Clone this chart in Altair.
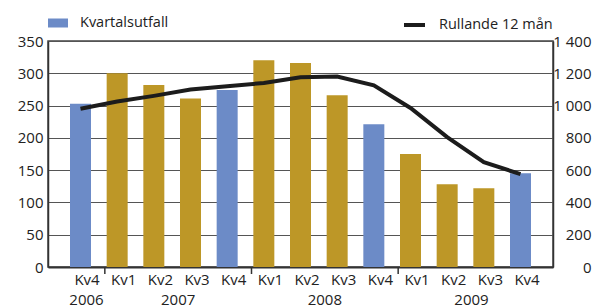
import altair as alt
import pandas as pd

# ---- data ----
kvartal = ["Kv4", "Kv1", "Kv2", "Kv3", "Kv4", "Kv1", "Kv2", "Kv3", "Kv4", "Kv1", "Kv2", "Kv3", "Kv4"]
kvartalsutfall = [253, 300, 282, 261, 274, 320, 316, 266, 221, 175, 128, 122, 145]
rullande_12 = [980, 1025, 1060, 1100, 1120, 1140, 1175, 1180, 1125, 985, 805, 650, 575]
ar = ["2006", "2007", "2008", "2009"]
ar_pos = [0, 2.5, 6.5, 10.5]
separator_pos = [0.5, 4.5, 8.5]
left_ticks = [0, 50, 100, 150, 200, 250, 300, 350]
right_ticks = [0, 200, 400, 600, 800, 1000, 1200, 1400]

BLUE = "#6c8bc7"
GOLD = "#bd9727"
LINE = "#1c1c1c"
FONT = "Open Sans"
W, H = 505, 226

df = pd.DataFrame({
    "i": list(range(len(kvartal))),
    "kvartal": kvartal,
    "utfall": kvartalsutfall,
    "rullande": rullande_12,
})
df["grupp"] = ["Kvartalsutfall" if k == "Kv4" else "Övriga" for k in kvartal]
df["serie"] = "Rullande 12 mån"

years_df = pd.DataFrame({"i": ar_pos, "ar": ar})
sep_df = pd.DataFrame({"i": separator_pos})

xscale = alt.Scale(domain=[-0.75, 12.75], nice=False, zero=False)
label_expr = "[" + ",".join(f"'{k}'" for k in kvartal) + "][datum.value]"
x_axis = alt.Axis(values=list(range(len(kvartal))), labelExpr=label_expr, ticks=False,
                  grid=False, domainColor="#333", domainWidth=2, labelPadding=5,
                  labelOffset=6, title=None)
X = alt.X("i:Q", scale=xscale, axis=x_axis)

bars = alt.Chart(df).mark_bar(size=21).encode(
    x=X,
    y=alt.Y("utfall:Q", scale=alt.Scale(domain=[0, 350], nice=False),
            axis=alt.Axis(values=left_ticks, ticks=False, grid=True, gridColor="#555",
                          gridWidth=1, domainColor="#333", domainWidth=1.5,
                          labelPadding=5, title=None)),
    color=alt.Color("grupp:N",
                    scale=alt.Scale(domain=["Kvartalsutfall", "Övriga"], range=[BLUE, GOLD]),
                    legend=alt.Legend(values=["Kvartalsutfall"], orient="none", legendX=0,
                                      legendY=-28, title=None, padding=0,
                                      symbolType="M-1,-0.45H1V0.45H-1Z", symbolSize=400,
                                      symbolStrokeWidth=0, symbolOpacity=1, labelOffset=12,
                                      labelFontSize=14.5, labelColor="#222", labelFont=FONT)),
)

line = alt.Chart(df).mark_line(strokeWidth=4).encode(
    x=X,
    y=alt.Y("rullande:Q", scale=alt.Scale(domain=[0, 1400], nice=False),
            axis=alt.Axis(orient="right", values=right_ticks,
                          labelExpr="replace(format(datum.value, ','), ',', ' ')",
                          grid=False, ticks=False, labelAlign="right", labelPadding=38,
                          domainColor="#333", domainWidth=1.5, title=None)),
    stroke=alt.Stroke("serie:N", scale=alt.Scale(range=[LINE]),
                      legend=alt.Legend(orient="none", legendX=354, legendY=-28.5, title=None,
                                        padding=0, symbolType="stroke", symbolSize=441,
                                        symbolStrokeWidth=4, labelOffset=12,
                                        labelFontSize=14.5, labelColor="#222", labelFont=FONT)),
)

seps = alt.Chart(sep_df).mark_rule(color="#333", strokeWidth=1.5, xOffset=6).encode(
    x=X, y=alt.value(H), y2=alt.value(H + 7)
)

years = alt.Chart(years_df).mark_text(fontSize=15, font=FONT, color="#222", xOffset=6,
                                      baseline="middle").encode(
    x=X, y=alt.value(H + 33), text="ar:N"
)

chart = alt.layer(bars, line, seps, years).resolve_scale(
    y="independent", color="independent", stroke="independent"
).properties(
    width=W, height=H,
    padding={"left": 40, "top": 33, "right": 41, "bottom": 50},
    autosize=alt.AutoSizeParams(type="none"),
).configure_axis(
    labelFont=FONT, labelFontSize=15, labelColor="#222"
).configure_view(
    stroke="#444", strokeWidth=1.5
)

chart.save("out.html", embed_options={"renderer": "svg", "actions": False})
